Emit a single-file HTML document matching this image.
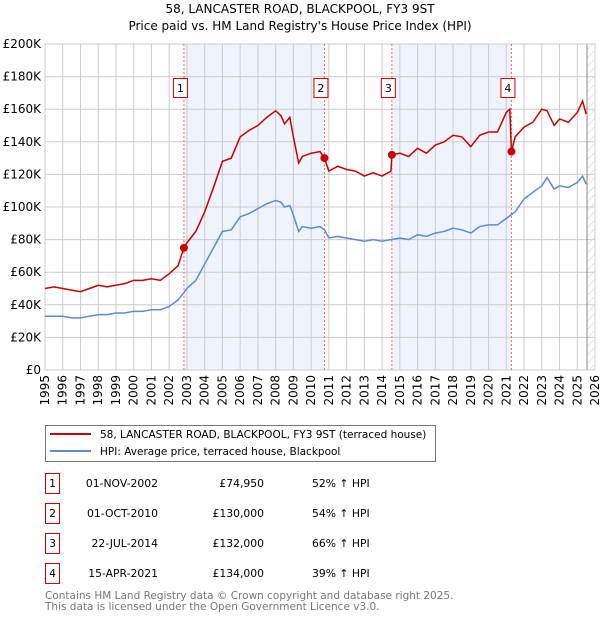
<!DOCTYPE html>
<html><head><meta charset="utf-8"><style>
body{margin:0;background:#fff;font-family:"DejaVu Sans","Liberation Sans",sans-serif;}
svg text{font-family:"DejaVu Sans","Liberation Sans",sans-serif;}
</style></head><body>
<svg id="chart" width="600" height="620" xmlns="http://www.w3.org/2000/svg">
<defs><pattern id="hatch" width="6" height="6" patternUnits="userSpaceOnUse" patternTransform="rotate(45)"><line x1="0" y1="0" x2="0" y2="6" stroke="#ccc" stroke-width="1"/></pattern></defs>
<text x="300" y="13" text-anchor="middle" font-size="12">58, LANCASTER ROAD, BLACKPOOL, FY3 9ST</text>
<text x="300" y="30" text-anchor="middle" font-size="12">Price paid vs. HM Land Registry's House Price Index (HPI)</text>
<g id="plot"></g>
<g>
<rect x="45.5" y="425.5" width="390" height="36" fill="#fff" stroke="#777"/>
<line x1="50" y1="434" x2="91" y2="434" stroke="#cc0000" stroke-width="2"/>
<text x="100" y="438" font-size="10.5">58, LANCASTER ROAD, BLACKPOOL, FY3 9ST (terraced house)</text>
<line x1="50" y1="451" x2="91" y2="451" stroke="#5b8bd0" stroke-width="2"/>
<text x="100" y="455" font-size="10.5">HPI: Average price, terraced house, Blackpool</text>
</g>
<g id="table" font-size="10.8"></g>
<text x="45" y="599" font-size="10.5" fill="#777">Contains HM Land Registry data © Crown copyright and database right 2025.</text>
<text x="45" y="610" font-size="10.5" fill="#777">This data is licensed under the Open Government Licence v3.0.</text>
</svg>
<script>
const hpiYears=[1995,1995.5,1996,1996.5,1997,1997.5,1998,1998.5,1999,1999.5,2000,2000.5,2001,2001.5,2002,2002.5,2003,2003.5,2004,2004.5,2005,2005.5,2006,2006.5,2007,2007.5,2008,2008.3,2008.5,2008.8,2009,2009.3,2009.5,2010,2010.5,2010.75,2011,2011.5,2012,2012.5,2013,2013.5,2014,2014.5,2015,2015.5,2016,2016.5,2017,2017.5,2018,2018.5,2019,2019.5,2020,2020.5,2021,2021.5,2022,2022.5,2023,2023.3,2023.7,2024,2024.5,2025,2025.3,2025.5];
const hpiValues=[33,33,33,32,32,33,34,34,35,35,36,36,37,37,39,43,50,55,65,75,85,86,94,96,99,102,104,103,100,101,95,85,88,87,88,86,81,82,81,80,79,80,79,80,81,80,83,82,84,85,87,86,84,88,89,89,93,97,105,109,113,118,111,113,112,115,119,114];
const priceYears=[1995,1995.5,1996,1996.5,1997,1997.5,1998,1998.5,1999,1999.5,2000,2000.5,2001,2001.5,2002,2002.5,2002.83,2003,2003.5,2004,2004.5,2005,2005.5,2006,2006.5,2007,2007.5,2008,2008.3,2008.5,2008.8,2009,2009.3,2009.5,2010,2010.5,2010.75,2011,2011.5,2012,2012.5,2013,2013.5,2014,2014.5,2014.55,2015,2015.5,2016,2016.5,2017,2017.5,2018,2018.5,2019,2019.5,2020,2020.5,2021,2021.2,2021.29,2021.5,2022,2022.5,2023,2023.3,2023.7,2024,2024.5,2025,2025.3,2025.5];
const priceValues=[50,51,50,49,48,50,52,51,52,53,55,55,56,55,59,64,74.95,78,85,97,112,128,130,143,147,150,155,159,156,151,155,143,127,131,133,134,130,122,125,123,122,119,121,119,122,132,133,131,136,133,138,140,144,143,137,144,146,146,158,160,134,143,149,152,160,159,150,154,152,158,165,157];
const saleYears=[2002.83,2010.75,2014.55,2021.29];
const saleValues=[74.95,130,132,134];
const saleLabels=["1","2","3","4"];
const saleDates=["01-NOV-2002","01-OCT-2010","22-JUL-2014","15-APR-2021"];
const salePrices=["£74,950","£130,000","£132,000","£134,000"];
const salePcts=["52% ↑ HPI","54% ↑ HPI","66% ↑ HPI","39% ↑ HPI"];
const yTicks=[0,20,40,60,80,100,120,140,160,180,200];
const xTicks=[1995,1996,1997,1998,1999,2000,2001,2002,2003,2004,2005,2006,2007,2008,2009,2010,2011,2012,2013,2014,2015,2016,2017,2018,2019,2020,2021,2022,2023,2024,2025,2026];
const X0=45,X1=595,Y0=370,Y1=44;
const xs=y=>X0+(y-1995)/(2026-1995)*(X1-X0);
const ys=v=>Y0-v/200*(Y0-Y1);
const NS="http://www.w3.org/2000/svg";
const plot=document.getElementById('plot');
function mk(tag,attrs,parent){const e=document.createElementNS(NS,tag);for(const k in attrs)e.setAttribute(k,attrs[k]);(parent||plot).appendChild(e);return e;}
for(let i=0;i<saleYears.length;i+=2){const a=saleYears[i],b=i+1<saleYears.length?saleYears[i+1]:2025.5;
const r=mk('rect',{x:xs(a),y:Y1,width:xs(b)-xs(a),height:Y0-Y1,fill:'#eef3fc'});

}
const hx=xs(2025.55);
const hr=mk('rect',{x:hx,y:Y1,width:X1-hx,height:Y0-Y1,fill:'url(#hatch)'});


yTicks.forEach(t=>{mk('line',{x1:X0,x2:X1,y1:ys(t),y2:ys(t),stroke:'#ccc'});
const tx=mk('text',{x:X0-4,y:ys(t)+4,'text-anchor':'end','font-size':'12'});tx.textContent=t===0?'£0':'£'+t+'K';

});
xTicks.forEach(t=>{mk('line',{x1:xs(t),x2:xs(t),y1:Y1,y2:Y0,stroke:'#ccc'});
const tx=mk('text',{x:0,y:0,'font-size':'12','text-anchor':'end',transform:`translate(${xs(t)+4},${Y0+5}) rotate(-90)`});tx.textContent=t;

});
mk('line',{x1:hx,x2:hx,y1:Y1,y2:Y0,stroke:'#888'});
mk('rect',{x:X0,y:Y1,width:X1-X0,height:Y0-Y1,fill:'none',stroke:'#ccc'});
saleYears.forEach((s,i)=>{mk('line',{x1:xs(s),x2:xs(s),y1:Y1,y2:Y0,stroke:'#ff6666','stroke-dasharray':'2,2'});
const g=mk('g',{});


mk('rect',{x:xs(s)-10.5,y:78.5,width:14,height:19,fill:'#fff',stroke:'#cc0000'},g);
const t=mk('text',{x:xs(s)-3.5,y:92,'text-anchor':'middle','font-size':'11'},g);t.textContent=saleLabels[i];});
const hp=mk('polyline',{points:hpiYears.map((y,i)=>xs(y)+','+ys(hpiValues[i])).join(' '),fill:'none',stroke:'#5b8bd0','stroke-width':'1.5'});


const pp=mk('polyline',{points:priceYears.map((y,i)=>xs(y)+','+ys(priceValues[i])).join(' '),fill:'none',stroke:'#cc0000','stroke-width':'1.5'});


saleYears.forEach((s,i)=>{const c=mk('circle',{cx:xs(s),cy:ys(saleValues[i]),r:4,fill:'#cc0000'});

});
const tb=document.getElementById('table');
saleLabels.forEach((l,i)=>{const y=483+i*30;
const g=mk('g',{},tb);


mk('rect',{x:45.5,y:y-9.5,width:14,height:20,fill:'#fff',stroke:'#cc0000'},g);
let t=mk('text',{x:52.5,y:y+4,'text-anchor':'middle'},g);t.textContent=l;
t=mk('text',{x:158,y:y+4,'text-anchor':'end'},g);t.textContent=saleDates[i];
t=mk('text',{x:264,y:y+4,'text-anchor':'end'},g);t.textContent=salePrices[i];
t=mk('text',{x:312,y:y+4},g);t.textContent=salePcts[i];});
</script>
</body></html>
